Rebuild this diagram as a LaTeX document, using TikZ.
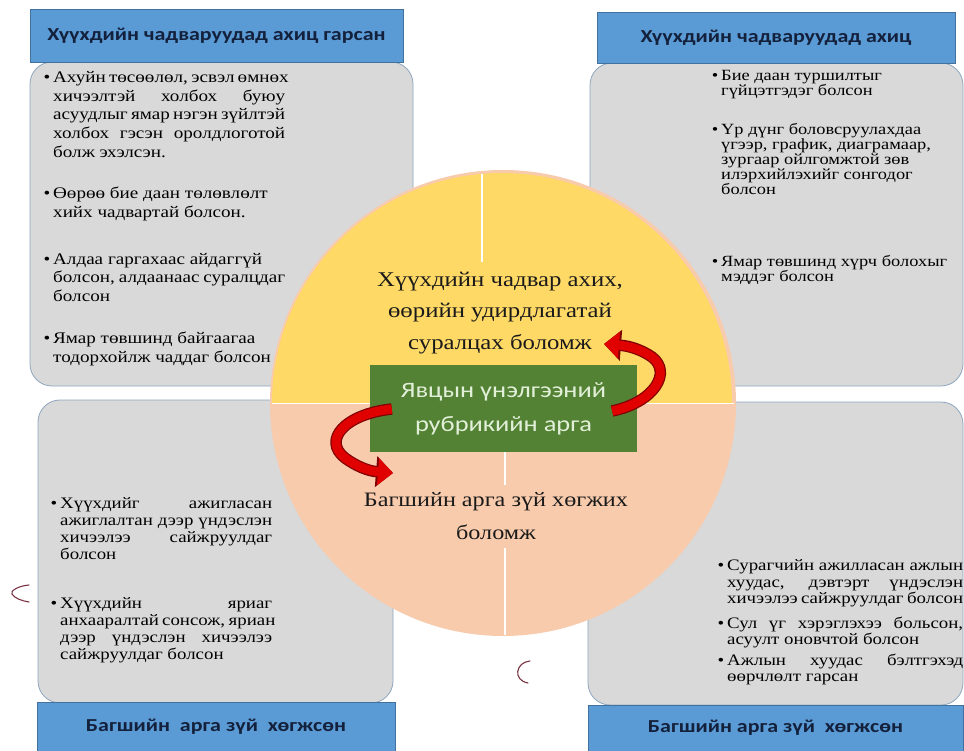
\documentclass[tikz,border=0pt]{standalone}
\usepackage{fontspec}
\setmainfont{Liberation Serif}
\newfontfamily\bodyfont[FakeStretch=1.18]{Liberation Serif}
\newfontfamily\hdrfont[FakeStretch=1.2]{Carlito}
\usetikzlibrary{arrows.meta}

\definecolor{hdrblue}{HTML}{5B9BD5}
\definecolor{hdrborder}{HTML}{41719C}
\definecolor{boxgrey}{HTML}{D9D9D9}
\definecolor{boxborder}{HTML}{8FA7BF}
\definecolor{sunyellow}{HTML}{FFD966}
\definecolor{peach}{HTML}{F8CBAD}
\definecolor{leafgreen}{HTML}{548235}
\definecolor{paletext}{HTML}{E2F0D9}
\definecolor{arrowred}{HTML}{E00000}
\definecolor{arrowdark}{HTML}{7F0000}
\definecolor{inktext}{HTML}{1A1A1A}
\definecolor{hdrtext}{HTML}{14213D}
\definecolor{penmark}{HTML}{7A3344}

\newcommand\jl[2]{\leavevmode\hbox to #1{\spaceskip=0pt\xspaceskip=0pt #2}}
\newcommand\bul{\leavevmode\llap{•\hspace{3pt}}}
\newcommand\bodysetup[2]{\bodyfont\fontsize{#1}{#2}\selectfont\lineskiplimit=-20pt\spaceskip=0pt\xspaceskip=0pt}

\begin{document}
\begin{tikzpicture}[x=1pt,y=-1pt,
  greybox/.style={draw=boxborder, line width=0.8pt, fill=boxgrey, rounded corners=22pt, inner sep=0},
  header/.style={draw=hdrborder, line width=0.6pt, fill=hdrblue, inner sep=0,
    font=\hdrfont\bfseries\fontsize{18.3}{20}\selectfont, text=hdrtext},
  bullettext/.style={anchor=west, inner sep=0, align=left, text=black},
  tlstyle/.style={bullettext, text width=232pt, execute at begin node={\bodysetup{16.2}{18.75}}},
  trstyle/.style={bullettext, text width=236pt, execute at begin node={\bodysetup{15.6}{15}}},
  blstyle/.style={bullettext, text width=212pt, execute at begin node={\bodysetup{16}{17}}},
  brstyle/.style={bullettext, text width=236pt, execute at begin node={\bodysetup{16}{16.5}}},
  centertext/.style={inner sep=0, align=center, text=inktext},
  redarrow/.style={draw=arrowred, line width=9pt, -{Triangle[length=15pt,width=26pt]},
    preaction={draw=arrowdark, line width=11.5pt, -{Triangle[length=17pt,width=30pt]}}},
  divider/.style={draw=white, line width=1.2pt},
  pen/.style={draw=penmark, line width=1.1pt, line cap=round}]

\useasboundingbox[fill=white] (0,0) rectangle (964,751);

% grey panels
\node[greybox, minimum width=383pt, minimum height=324pt] (tlbox) at (221.5,224) {};
\node[greybox, minimum width=373pt, minimum height=323pt] (trbox) at (776.5,224.5) {};
\node[greybox, minimum width=355pt, minimum height=303pt] (blbox) at (215.5,551.5) {};
\node[greybox, minimum width=375pt, minimum height=303pt] (brbox) at (775.5,553.5) {};

% headers
\node[header, minimum width=373pt, minimum height=53pt] (tlhead) at (216.5,35.5) {Хүүхдийн чадваруудад ахиц гарсан};
\node[header, minimum width=358pt, minimum height=51pt] (trhead) at (776,37.5) {Хүүхдийн чадваруудад ахиц};
\node[header, minimum width=358pt, minimum height=49pt] (blhead) at (216,726.5) {Багшийн\ \ арга зүй\ \ хөгжсөн};
\node[header, minimum width=375pt, minimum height=46pt] (brhead) at (775.5,728) {Багшийн арга зүй\ \ хөгжсөн};

% circle
\fill[peach] (503,403) circle[radius=233];
\begin{scope}
  \clip (0,0) rectangle (964,403);
  \fill[sunyellow] (502,403) circle[radius=230];
\end{scope}
\draw[divider, line width=0.8pt] (272,403) -- (734,403);
\draw[divider] (482,174) -- (482,262);
\draw[divider] (505,452) -- (505,485);
\draw[divider] (505,548) -- (505,635);

% top-left
\node[tlstyle] (tl1) at (53,114.5) {\bul\jl{232pt}{Ахуйн төсөөлөл, эсвэл өмнөх}\\\jl{232pt}{хичээлтэй холбох буюу}\\\jl{232pt}{асуудлыг ямар нэгэн зүйлтэй}\\\jl{232pt}{холбох гэсэн оролдлоготой}\\болж эхэлсэн.};
\node[tlstyle] (tl2) at (53,204) {\bul Өөрөө бие даан төлөвлөлт\\хийх чадвартай болсон.};
\node[tlstyle] (tl3) at (53,277.5) {\bul Алдаа гаргахаас айдаггүй\\болсон, алдаанаас суралцдаг\\болсон};
\node[tlstyle] (tl4) at (53,349) {\bul Ямар төвшинд байгаагаа\\тодорхойлж чаддаг болсон};

% top-right
\node[trstyle] (tr1) at (721,85) {\bul Бие даан туршилтыг\\гүйцэтгэдэг болсон};
\node[trstyle] (tr2) at (721,158.5) {\bul Үр дүнг боловсруулахдаа\\үгээр, график, диаграмаар,\\зургаар ойлгомжтой зөв\\илэрхийлэхийг сонгодог\\болсон};
\node[trstyle] (tr3) at (721,269.5) {\bul Ямар төвшинд хүрч болохыг\\мэддэг болсон};

% bottom-left
\node[blstyle] (bl1) at (60,528.5) {\bul\jl{212pt}{Хүүхдийг ажигласан}\\\jl{212pt}{ажиглалтан дээр үндэслэн}\\\jl{212pt}{хичээлээ сайжруулдаг}\\болсон};
\node[blstyle] (bl2) at (60,630) {\bul\jl{212pt}{Хүүхдийн яриаг}\\\jl{212pt}{анхааралтай сонсож, яриан}\\\jl{212pt}{дээр үндэслэн хичээлээ}\\сайжруулдаг болсон};

% bottom-right
\node[brstyle] (br1) at (727,583.5) {\bul\jl{236pt}{Сурагчийн ажилласан ажлын}\\\jl{236pt}{хуудас, дэвтэрт үндэслэн}\\хичээлээ сайжруулдаг болсон};
\node[brstyle] (br2) at (727,632.5) {\bul\jl{236pt}{Сул үг хэрэглэхээ больсон,}\\асуулт оновчтой болсон};
\node[brstyle] (br3) at (727,669.5) {\bul\jl{236pt}{Ажлын хуудас бэлтгэхэд}\\өөрчлөлт гарсан};

% central texts
\node[centertext, font=\bodyfont\fontsize{21}{31.5}\selectfont] (toptext) at (500,313) {Хүүхдийн чадвар ахих,\\өөрийн удирдлагатай\\суралцах боломж};
\node[centertext, font=\bodyfont\fontsize{20.5}{33}\selectfont] (bottext) at (496,516.5) {Багшийн арга зүй хөгжих\\боломж};

% green box
\node[fill=leafgreen, minimum width=267pt, minimum height=87pt, inner sep=0, align=center,
  text=paletext, font=\hdrfont\fontsize{22}{34}\selectfont] (green) at (503.5,408.5) {Явцын үнэлгээний\\рубрикийн арга};

% red arrows
\coordinate (rtip) at (604,344);
\coordinate (ltip) at (393,473);
\draw[redarrow] ([shift={(-25,2.5)}]green.east) .. controls (655,402) and (672,372) .. (652,357) .. controls (642,350) and (630,346) .. (rtip);
\draw[redarrow] ([shift={(22,0.5)}]green.west) .. controls (345,414) and (322,440) .. (345,458) .. controls (356,466) and (368,471) .. (ltip);

% small pen marks
\draw[pen] (29,585) .. controls (18,586) and (10,591) .. (12,594) .. controls (14,598) and (22,601) .. (29,602);
\draw[pen] (530,661) .. controls (516,662) and (512,680) .. (528,683);
\end{tikzpicture}
\end{document}
